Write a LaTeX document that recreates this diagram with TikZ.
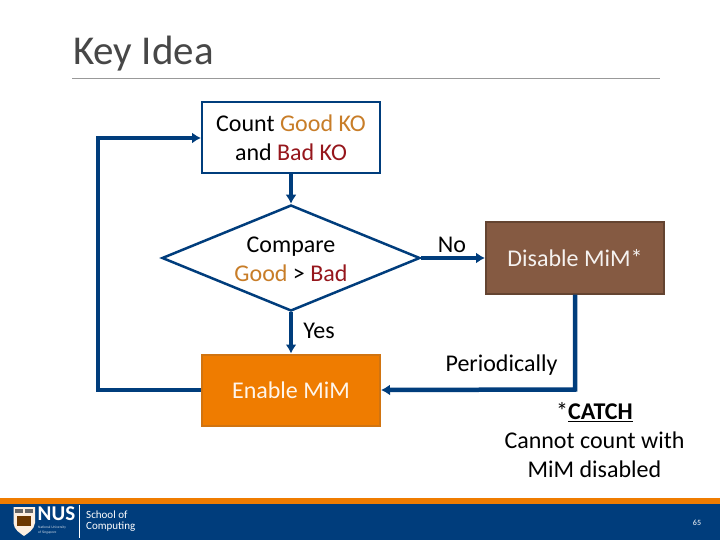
\documentclass[tikz,border=0pt]{standalone}
\usepackage{fontspec}
\setmainfont{Carlito}
\usetikzlibrary{arrows.meta,shapes.geometric}
\definecolor{nusblue}{RGB}{0,61,124}
\definecolor{nusorange}{RGB}{239,124,0}
\definecolor{boxbrown}{RGB}{133,90,66}
\definecolor{goodc}{RGB}{200,125,40}
\definecolor{badc}{RGB}{150,22,28}
\tikzset{
  x=1pt,y=-1pt,
  txt/.style={font=\fontsize{24}{29}\selectfont,align=center,text=black,inner sep=0pt},
  flowbox/.style={draw,line width=2pt,minimum width=178pt,minimum height=71pt,inner sep=0pt,align=center,font=\fontsize{24}{29}\selectfont},
  link/.style={draw=nusblue,line width=4.5pt,-{Latex[length=9pt,width=11pt]}},
  foot/.style={font=\fontsize{11}{12}\selectfont,text=white,inner sep=0pt,anchor=west}
}
\begin{document}
\begin{tikzpicture}
\useasboundingbox (0,0) rectangle (720,540);
\fill[white] (0,0) rectangle (720,540);
% title
\node[anchor=west,inner sep=0pt,font=\fontsize{41}{46}\selectfont,text=black!72] (title) at (73,54) {Key Idea};
\coordinate (ruleL) at (72,78.5);
\coordinate (ruleR) at (660,78.5);
\draw[black!40,line width=0.8pt] (ruleL) -- (ruleR);
% footer
\fill[nusorange] (0,498) rectangle (720,504);
\fill[nusblue] (0,504) rectangle (720,540);
% logo
\fill[white!88!nusorange] (13.5,507) -- (35,507) -- (35,523) .. controls (34,530) and (28,533) .. (24,536) .. controls (20,533) and (14,530) .. (13.5,523) -- cycle;
\fill[black!60] (15,509) rectangle (23,513);
\fill[black!60] (25,509) rectangle (33,513);
\fill[black!55!nusorange] (17,516) rectangle (31,526);
\node[inner sep=0pt,anchor=west,text=white,font=\bfseries\fontsize{21}{22}\selectfont] (nus) at (37.5,514) {NUS};
\node[inner sep=0pt,anchor=north west,text=white!80!nusblue,align=left,font=\fontsize{3.6}{4.6}\selectfont] (nusname) at (38,526) {National University\\of Singapore};
\coordinate (barT) at (79,505);
\coordinate (barB) at (79,538);
\draw[white,line width=0.7pt] (barT) -- (barB);
\node[foot] (school) at (86,515) {School of};
\node[foot] (comp) at (86,527) {Computing};
\node[inner sep=0pt,text=white,font=\fontsize{8}{9}\selectfont] (page) at (697,523) {65};
% nodes
\node[flowbox,draw=nusblue,fill=white] (count) at (291,138) {Count \textcolor{goodc}{Good KO}\\and \textcolor{badc}{Bad KO}};
\node[diamond,aspect=2.45,draw=nusblue,line width=2.5pt,fill=white,minimum width=258pt,minimum height=106pt,inner sep=0pt] (cmp) at (291,258) {};
\node[txt] (cmptxt) at (291,259) {Compare\\\textcolor{goodc}{Good} > \textcolor{badc}{Bad}};
\node[flowbox,draw=black!10!nusorange!75!brown,fill=nusorange,text=white!92!nusorange] (enable) at (291,390) {Enable MiM};
\node[flowbox,draw=boxbrown!75!black,fill=boxbrown,text=white!92!boxbrown] (disable) at (575,258) {Disable MiM*};
\coordinate (corner) at (575,389.5);
% connectors
\draw[link] (count.south) -- (cmp.north);
\draw[link] (cmp.south) -- (enable.north);
\draw[link] (cmp.east) -- (disable.west);
\draw[link] (enable.west) -- ++(-103,0) |- (count.west);
\draw[link] (disable.south) -- (corner) -- (enable.east);
% labels
\node[txt] (yes) at (319,330.5) {Yes};
\node[txt] (no) at (452,245) {No};
\node[txt] (period) at (501.5,365) {Periodically};
\node[txt] (catch) at (594.5,440.5) {*\underline{\textbf{CATCH}}\\Cannot count with\\MiM disabled};
\end{tikzpicture}
\end{document}
